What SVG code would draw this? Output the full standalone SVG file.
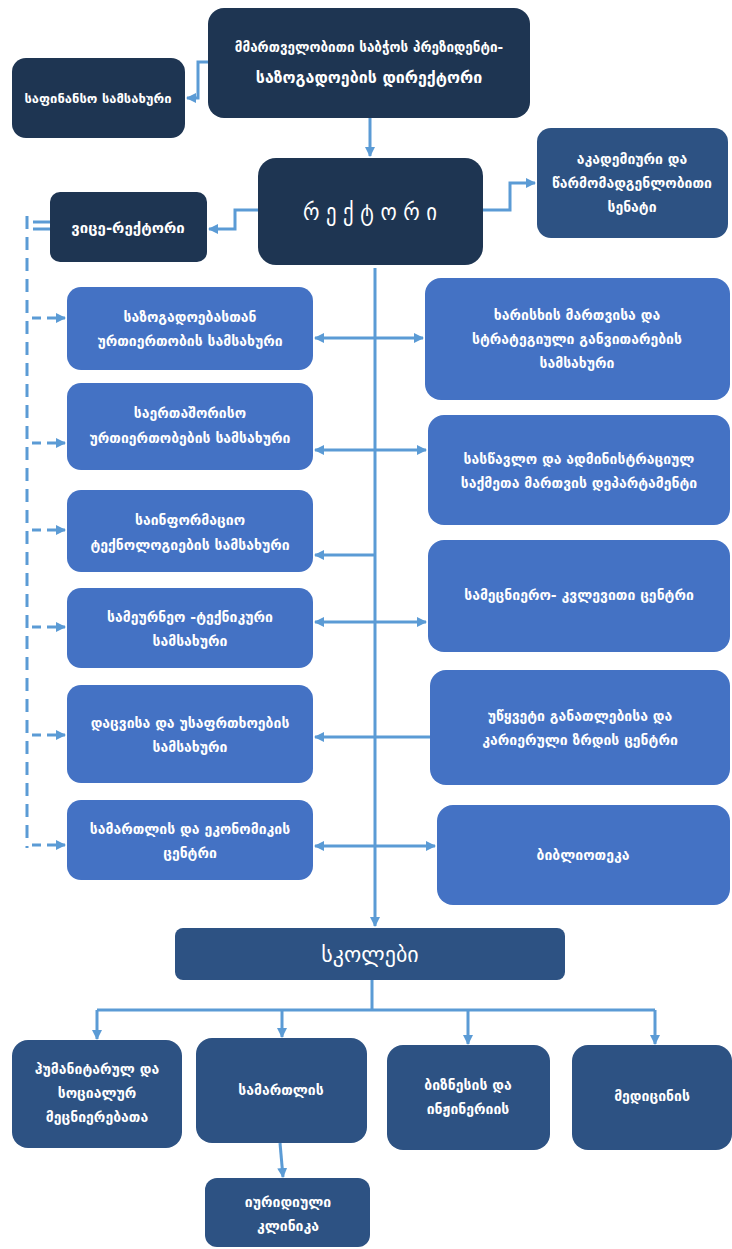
<svg xmlns="http://www.w3.org/2000/svg" width="732" height="1249" viewBox="0 0 732 1249">
<defs>
<style>
.dk{fill:#1e3552}
.md{fill:#2d5283}
.bl{fill:#4472c4}
text{font-family:"DejaVu Sans",sans-serif;fill:#ffffff;text-anchor:middle;font-size:14px;font-weight:bold}
.c{fill:none;stroke:#5b9bd5;stroke-width:3}
.d{fill:none;stroke:#5b9bd5;stroke-width:3;stroke-dasharray:13 8}
.ds{fill:none;stroke:#5b9bd5;stroke-width:3;stroke-dasharray:9 6}
</style>
<marker id="a" viewBox="0 0 10 10" refX="9" refY="5" markerWidth="10" markerHeight="10" markerUnits="userSpaceOnUse" orient="auto-start-reverse">
<path d="M0,0 L10,5 L0,10 z" fill="#5b9bd5"/>
</marker>
</defs>
<rect width="732" height="1249" fill="#ffffff"/>

<g id="connectors">
<path class="c" d="M208,62 H198 V98 H187" marker-end="url(#a)"/>
<path class="c" d="M370,118 V156" marker-end="url(#a)"/>
<path class="c" d="M483,210 H510 V183 H535" marker-end="url(#a)"/>
<path class="c" d="M258,210 H235 V229 H209" marker-end="url(#a)"/>
<path class="c" d="M33,222 H50 M33,229 H50"/>
<path class="d" d="M27,216 V848"/>
<path class="ds" d="M32,318 H65" marker-end="url(#a)"/>
<path class="ds" d="M32,443 H65" marker-end="url(#a)"/>
<path class="ds" d="M32,530 H65" marker-end="url(#a)"/>
<path class="ds" d="M32,627 H65" marker-end="url(#a)"/>
<path class="ds" d="M32,735 H65" marker-end="url(#a)"/>
<path class="ds" d="M32,845 H65" marker-end="url(#a)"/>
<path class="c" d="M375,268 V926" marker-end="url(#a)"/>
<path class="c" d="M315,338 H423" marker-start="url(#a)" marker-end="url(#a)"/>
<path class="c" d="M315,450 H426" marker-start="url(#a)" marker-end="url(#a)"/>
<path class="c" d="M315,555 H376" marker-start="url(#a)"/>
<path class="c" d="M315,622 H426" marker-start="url(#a)" marker-end="url(#a)"/>
<path class="c" d="M315,737 H430" marker-start="url(#a)"/>
<path class="c" d="M315,846 H435" marker-start="url(#a)" marker-end="url(#a)"/>
<path class="c" d="M372,980 V1010 M97,1010 H655"/>
<path class="c" d="M97,1010 V1039" marker-end="url(#a)"/>
<path class="c" d="M282,1010 V1037" marker-end="url(#a)"/>
<path class="c" d="M468,1010 V1044" marker-end="url(#a)"/>
<path class="c" d="M655,1010 V1044" marker-end="url(#a)"/>
<path class="c" d="M280,1143 L283,1177" marker-end="url(#a)"/>
</g>

<g id="board">
<rect class="dk" x="208" y="8" width="322" height="110" rx="16"/>
<text x="369" y="52" style="font-size:13.5px">მმართველობითი საბჭოს პრეზიდენტი-</text>
<text x="369" y="83" style="font-size:16px">საზოგადოების დირექტორი</text>
</g>
<g id="finance">
<rect class="dk" x="12" y="58" width="173" height="80" rx="14"/>
<text x="98" y="103" style="font-size:13px">საფინანსო სამსახური</text>
</g>
<g id="rector">
<rect class="dk" x="258" y="158" width="225" height="107" rx="18"/>
<text x="370" y="220" style="font-family:'DejaVu Sans Condensed','DejaVu Sans',sans-serif;font-size:23px;font-weight:normal">რ ე ქ ტ ო რ ი</text>
</g>
<g id="senate">
<rect class="md" x="537" y="128" width="191" height="110" rx="14"/>
<text x="632" y="164">აკადემიური და</text>
<text x="632" y="188">წარმომადგენლობითი</text>
<text x="632" y="212">სენატი</text>
</g>
<g id="vice">
<rect class="dk" x="50" y="192" width="157" height="70" rx="10"/>
<text x="128" y="233" style="font-size:15px">ვიცე-რექტორი</text>
</g>

<g id="l1"><rect class="bl" x="67" y="287" width="246" height="83" rx="14"/>
<text x="190" y="322">საზოგადოებასთან</text><text x="190" y="346">ურთიერთობის სამსახური</text></g>
<g id="l2"><rect class="bl" x="67" y="383" width="246" height="87" rx="14"/>
<text x="190" y="418">საერთაშორისო</text><text x="190" y="443">ურთიერთობების სამსახური</text></g>
<g id="l3"><rect class="bl" x="67" y="490" width="246" height="82" rx="14"/>
<text x="190" y="525">საინფორმაციო</text><text x="190" y="550">ტექნოლოგიების სამსახური</text></g>
<g id="l4"><rect class="bl" x="67" y="588" width="246" height="80" rx="14"/>
<text x="190" y="622">სამეურნეო -ტექნიკური</text><text x="190" y="646">სამსახური</text></g>
<g id="l5"><rect class="bl" x="67" y="685" width="246" height="98" rx="14"/>
<text x="190" y="728">დაცვისა და უსაფრთხოების</text><text x="190" y="752">სამსახური</text></g>
<g id="l6"><rect class="bl" x="67" y="800" width="246" height="80" rx="14"/>
<text x="190" y="834">სამართლის და ეკონომიკის</text><text x="190" y="858">ცენტრი</text></g>

<g id="r1"><rect class="bl" x="425" y="278" width="305" height="122" rx="16"/>
<text x="577" y="320">ხარისხის მართვისა და</text><text x="577" y="344">სტრატეგიული განვითარების</text><text x="577" y="368">სამსახური</text></g>
<g id="r2"><rect class="bl" x="428" y="415" width="302" height="110" rx="16"/>
<text x="579" y="464">სასწავლო და ადმინისტრაციულ</text><text x="579" y="488">საქმეთა მართვის დეპარტამენტი</text></g>
<g id="r3"><rect class="bl" x="428" y="540" width="302" height="112" rx="16"/>
<text x="579" y="600">სამეცნიერო- კვლევითი ცენტრი</text></g>
<g id="r4"><rect class="bl" x="430" y="670" width="300" height="115" rx="16"/>
<text x="580" y="721">უწყვეტი განათლებისა და</text><text x="580" y="745">კარიერული ზრდის ცენტრი</text></g>
<g id="r5"><rect class="bl" x="437" y="805" width="293" height="100" rx="16"/>
<text x="583" y="860">ბიბლიოთეკა</text></g>

<g id="schools"><rect class="md" x="175" y="928" width="390" height="52" rx="8"/>
<text x="370" y="962" style="font-size:22px;font-weight:normal">სკოლები</text></g>
<g id="s1"><rect class="md" x="12" y="1040" width="170" height="108" rx="16"/>
<text x="97" y="1074">ჰუმანიტარულ და</text><text x="97" y="1098">სოციალურ</text><text x="97" y="1122">მეცნიერებათა</text></g>
<g id="s2"><rect class="md" x="196" y="1038" width="171" height="105" rx="16"/>
<text x="281" y="1095">სამართლის</text></g>
<g id="s3"><rect class="md" x="387" y="1045" width="163" height="105" rx="16"/>
<text x="468" y="1090">ბიზნესის და</text><text x="468" y="1114">ინჟინერიის</text></g>
<g id="s4"><rect class="md" x="572" y="1045" width="160" height="105" rx="16"/>
<text x="652" y="1101">მედიცინის</text></g>
<g id="clinic"><rect class="md" x="205" y="1178" width="165" height="69" rx="12"/>
<text x="288" y="1207">იურიდიული</text><text x="288" y="1231">კლინიკა</text></g>
</svg>
